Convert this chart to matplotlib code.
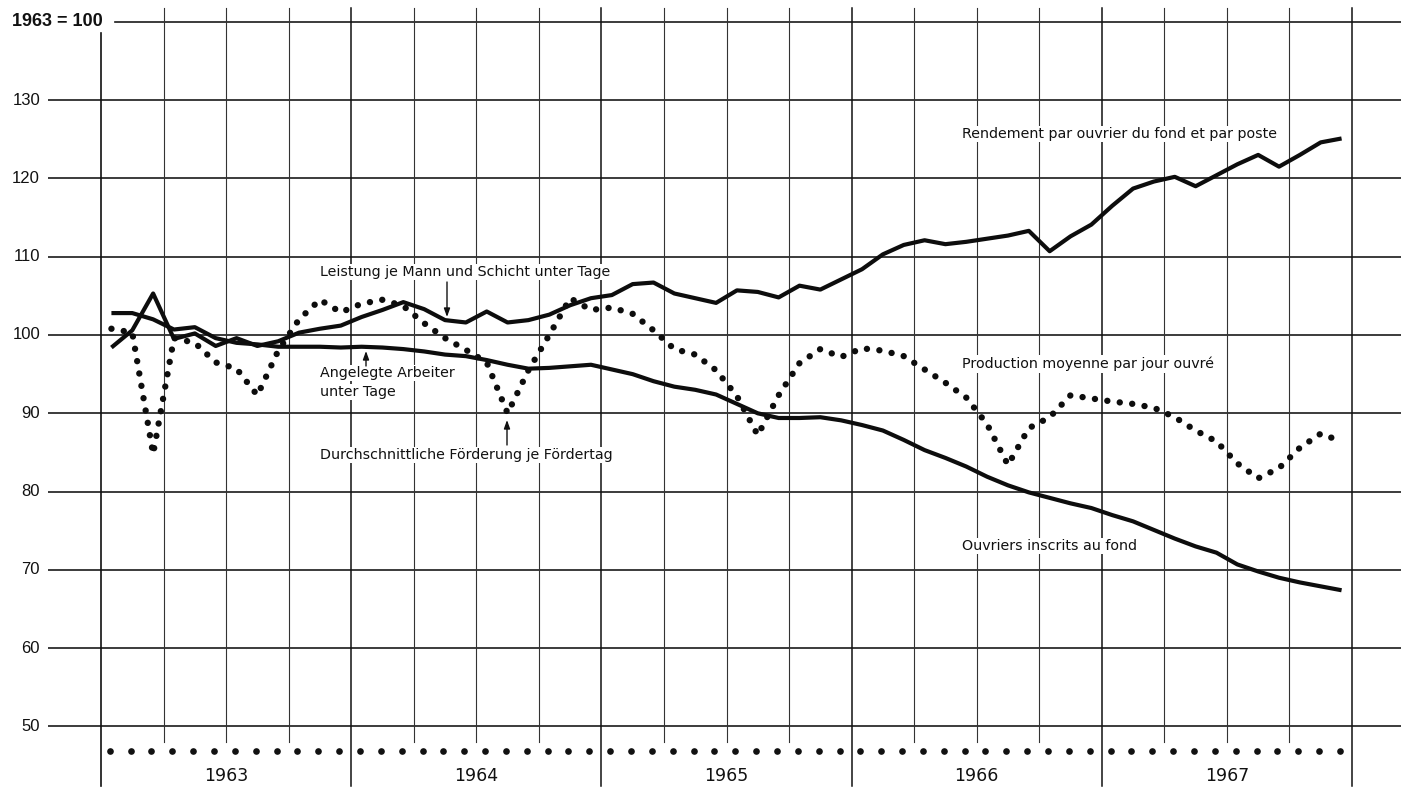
import matplotlib
matplotlib.use('Agg')
import matplotlib.pyplot as plt

# ---------------- data ----------------
years = ['1963', '1964', '1965', '1966', '1967']
y_ticks = [50, 60, 70, 80, 90, 100, 110, 120, 130]
base_label = '1963 = 100'

# Leistung je Mann und Schicht unter Tage / Rendement par ouvrier du fond et par poste
leistung = [98.4, 100.6, 105.3, 99.5, 100.2, 98.6, 99.6, 98.6, 99.2, 100.3, 100.8, 101.2,
            102.3, 103.2, 104.2, 103.3, 101.9, 101.6, 103.0, 101.6, 101.9, 102.6, 103.8, 104.7,
            105.1, 106.5, 106.7, 105.3, 104.7, 104.1, 105.7, 105.5, 104.8, 106.3, 105.8, 107.1,
            108.4, 110.3, 111.5, 112.1, 111.6, 111.9, 112.3, 112.7, 113.3, 110.7, 112.6, 114.1,
            116.5, 118.7, 119.6, 120.2, 119.0, 120.4, 121.8, 123.0, 121.5, 123.0, 124.6, 125.1]

# Angelegte Arbeiter unter Tage / Ouvriers inscrits au fond
arbeiter = [102.8, 102.8, 102.0, 100.7, 101.0, 99.6, 99.0, 98.8, 98.5, 98.5, 98.5, 98.4,
            98.5, 98.4, 98.2, 97.9, 97.5, 97.3, 96.8, 96.2, 95.7, 95.8, 96.0, 96.2,
            95.6, 95.0, 94.1, 93.4, 93.0, 92.4, 91.2, 90.0, 89.4, 89.4, 89.5, 89.1,
            88.5, 87.8, 86.6, 85.3, 84.3, 83.2, 81.9, 80.8, 79.9, 79.2, 78.5, 77.9,
            77.0, 76.2, 75.1, 74.0, 73.0, 72.2, 70.7, 69.8, 69.0, 68.4, 67.9, 67.4]

# Durchschnittliche Foerderung je Foerdertag / Production moyenne par jour ouvre
foerderung = [100.8, 100.3, 84.8, 99.6, 99.0, 96.5, 95.7, 92.3, 98.0, 102.0, 104.5, 102.9,
              104.0, 104.5, 103.7, 101.5, 99.6, 98.1, 96.5, 90.0, 95.5, 100.0, 104.7, 103.2,
              103.5, 102.7, 100.6, 98.2, 97.5, 95.5, 92.2, 87.2, 92.3, 96.4, 98.2, 97.2,
              98.3, 98.0, 97.3, 95.6, 93.9, 92.0, 88.6, 83.4, 88.1, 89.5, 92.3, 91.9,
              91.5, 91.2, 90.7, 89.5, 87.8, 86.4, 83.6, 81.7, 83.0, 85.6, 87.4, 86.4]

n_months = len(leistung)
months = [i + 0.5 for i in range(n_months)]

# ---------------- layout (pixel mapping) ----------------
W, H = 1401, 789
PX0, PXM = 101.0, 20.85      # x pixel of month 0, pixels per month
PY100, PYU = 335.0, 7.83     # y pixel of value 100, pixels per unit


def px2x(px):
    return (px - PX0) / PXM


def px2y(py):
    return 100 - (py - PY100) / PYU


fig = plt.figure(figsize=(W / 100, H / 100), dpi=100)
fig.patch.set_facecolor('white')
ax = fig.add_axes([0, 0, 1, 1])
ax.set_xlim(px2x(0), px2x(W))
ax.set_ylim(px2y(H), px2y(0))
ax.axis('off')

grid_col = '#1a1a1a'

# horizontal grid lines
for v in y_ticks:
    ax.plot([px2x(48), px2x(W)], [v, v], color=grid_col, lw=1.2, zorder=1,
            solid_capstyle='butt')
    ax.text(px2x(40), v, str(v), ha='right', va='center', fontsize=12,
            family='Liberation Sans', color='#111')
top_val = y_ticks[-1] + 10
ax.plot([px2x(115), px2x(W)], [top_val, top_val], color=grid_col, lw=1.2, zorder=1)
ax.text(px2x(12), top_val, base_label, ha='left', va='center', fontsize=13,
        fontweight='bold', family='Liberation Sans', color='#111')

# vertical grid lines (quarters / years)
n_q = n_months // 3
for q in range(n_q + 1):
    m = 3 * q
    if q == 0:
        ax.plot([m, m], [px2y(33), px2y(786)], color='#111', lw=1.2, zorder=1)
    elif q % 4 == 0:
        ax.plot([m, m], [px2y(8), px2y(786)], color='#111', lw=1.1, zorder=1)
    else:
        ax.plot([m, m], [px2y(8), px2y(742)], color='#333', lw=0.8, zorder=1)

# month dots row and year labels
ax.plot([m - 0.08 for m in months], [px2y(751)] * n_months, 'o', ms=4.8,
        color='#111', zorder=2, markeredgewidth=0)
for k, yr in enumerate(years):
    ax.text(12 * k + 6, px2y(776), yr, ha='center', va='center', fontsize=12.5,
            family=['Liberation Sans Narrow', 'DejaVu Sans'], color='#111')

# data series
ax.plot(months, leistung, color='#0d0d0d', lw=3.0, solid_joinstyle='round',
        solid_capstyle='butt', zorder=4)
ax.plot(months, arbeiter, color='#0d0d0d', lw=3.0, solid_joinstyle='round',
        solid_capstyle='butt', zorder=4)
ax.plot(months, foerderung, color='#0d0d0d', lw=4.6, linestyle=(0, (0.01, 1.95)),
        dash_capstyle='round', zorder=4)

# annotations
lab_kw = dict(fontsize=10.3, family='DejaVu Sans', color='#111', ha='left', va='center',
              zorder=3, bbox=dict(facecolor='white', edgecolor='none', pad=1.0))
ax.text(px2x(320), px2y(272), 'Leistung je Mann und Schicht unter Tage', **lab_kw)
ax.text(px2x(320), px2y(373), 'Angelegte Arbeiter', **lab_kw)
ax.text(px2x(320), px2y(392), 'unter Tage', **lab_kw)
ax.text(px2x(320), px2y(455), 'Durchschnittliche Förderung je Fördertag', **lab_kw)
ax.text(px2x(962), px2y(134), 'Rendement par ouvrier du fond et par poste', **lab_kw)
ax.text(px2x(962), px2y(364), 'Production moyenne par jour ouvré', **lab_kw)
ax.text(px2x(962), px2y(546), 'Ouvriers inscrits au fond', **lab_kw)

arr_kw = dict(arrowstyle='-|>,head_length=0.5,head_width=0.18', color='#111', lw=1.0,
              shrinkA=0, shrinkB=0)
ax.annotate('', xy=(px2x(447), px2y(317)), xytext=(px2x(447), px2y(282)),
            arrowprops=arr_kw, zorder=5)
ax.annotate('', xy=(px2x(366), px2y(351)), xytext=(px2x(366), px2y(366)),
            arrowprops=arr_kw, zorder=5)
ax.annotate('', xy=(px2x(507), px2y(420)), xytext=(px2x(507), px2y(445)),
            arrowprops=arr_kw, zorder=5)

fig.savefig('out.png', dpi=100, facecolor='white')
